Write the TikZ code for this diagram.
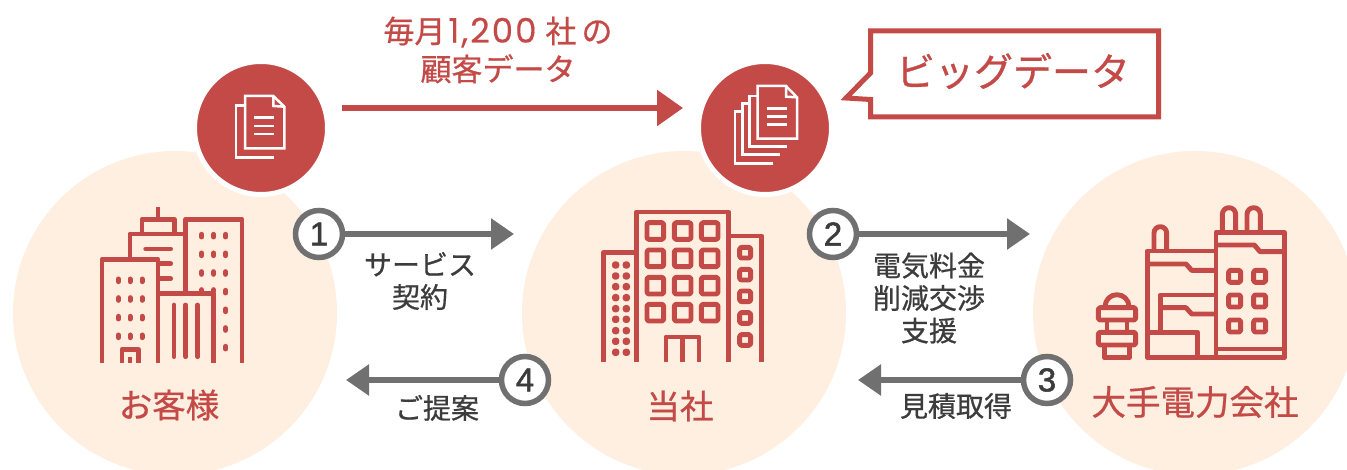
\documentclass[tikz,border=0pt]{standalone}
\usepackage{fontspec}
\setmainfont{Noto Sans CJK JP}[RawFeature={embolden=0.7}]
\newfontfamily\digits{Poppins}[LetterSpace=6,RawFeature={embolden=0.3}]
\newfontfamily\circled{Liberation Sans}[RawFeature={embolden=1.6}]
\usetikzlibrary{arrows.meta}
\definecolor{brick}{HTML}{C44A47}
\definecolor{peach}{HTML}{FFEFE0}
\definecolor{greyline}{HTML}{707070}
\definecolor{ink}{HTML}{3C3C3C}
\tikzset{
  bigdisc/.style={circle,fill=peach,minimum size=324pt,inner sep=0pt},
  reddisc/.style={circle,fill=brick,draw=white,line width=5pt,minimum size=133pt,inner sep=0pt},
  numdisc/.style={circle,fill=white,draw=greyline,line width=5.5pt,minimum size=47pt,inner sep=0pt,text=ink,font=\fontsize{33}{35}\selectfont\circled},
  greyarrow/.style={draw=greyline,line width=5.5pt,-{Triangle[length=23pt,width=30pt]}},
  redarrow/.style={draw=brick,line width=5.5pt,-{Triangle[length=26pt,width=35pt]}},
  redlabel/.style={text=brick,inner sep=0pt,align=center},
  inklabel/.style={text=ink,inner sep=0pt,align=center,font=\fontsize{28}{32.5}\selectfont},
  icon/.style={draw=brick,line width=4.9pt,line join=round},
  iconb/.style={draw=brick,line width=4.9pt,line join=round,rounded corners=1.5pt},
  dash1/.style={draw=brick,line width=5pt,line cap=round},
  bar1/.style={draw=brick,line width=4.8pt,line cap=round},
  paper/.style={draw=white,line width=2.5pt,line join=miter},
}
\begin{document}
\begin{tikzpicture}[x=1pt,y=-1pt]
\useasboundingbox (0,0) rectangle (1347,470);
\clip (0,0) rectangle (1347,470);
\fill[white] (0,0) rectangle (1347,470);

\node[bigdisc] (customer) at (175,313) {};
\node[bigdisc] (us) at (684,313) {};
\node[bigdisc] (power) at (1195,313) {};

\node[reddisc] (docA) at (261,128) {};
\node[reddisc] (docB) at (765,128) {};

% connectors
\coordinate (topstart) at (342,108);
\coordinate (topend) at (683,108);
\draw[redarrow] (topstart) -- (topend);

\coordinate (endA) at (514,234);
\coordinate (endB) at (1030,234);
\coordinate (endC) at (858,380);
\coordinate (endD) at (346,380);
\node[numdisc] (n1) at (319,234) {1};
\node[numdisc] (n2) at (833,234) {2};
\node[numdisc] (n3) at (1047,380) {3};
\node[numdisc] (n4) at (525,380) {4};
\draw[greyarrow] (n1) -- (endA);
\draw[greyarrow] (n2) -- (endB);
\draw[greyarrow] (n3) -- (endC);
\draw[greyarrow] (n4) -- (endD);

% labels
\node[redlabel,font=\fontsize{31}{38}\selectfont] (monthly) at (498,50) {毎月\kern3pt{\fontsize{34}{38}\selectfont\digits 1,200}\kern9pt 社\kern5pt の\\顧客データ};
\node[inklabel] (lab1) at (420,281) {サービス\\契約};
\node[inklabel] (lab2) at (929,298) {電気料金\\削減交渉\\支援};
\node[inklabel] (lab3) at (956,406) {見積取得};
\node[inklabel] (lab4) at (437,408) {ご提案};
\node[redlabel,font=\fontsize{33.5}{35}\selectfont] (nameA) at (169,405) {お客様};
\node[redlabel,font=\fontsize{33.5}{35}\selectfont] (nameB) at (680,406) {当社};
\node[redlabel,font=\fontsize{34.5}{36}\selectfont] (nameC) at (1195,402) {大手電力会社};

% callout
\draw[brick,line width=5pt,miter limit=10,fill=white]
  (870.5,31) -- (1158.5,31) -- (1158.5,117) -- (870.5,117) -- (870.5,99.5) -- (846,98) -- (870.5,73) -- cycle;
\node[redlabel,font=\fontsize{39}{41}\selectfont] (bigdata) at (1013,71) {ビッグデータ};

% single document icon
\begin{scope}[shift={(190,60)},x=1/3*1pt,y=-1/3*1pt]
  \draw[paper] (165,108) -- (250,108) -- (283,140) -- (283,265) -- (165,265) -- cycle;
  \draw[paper] (250,108) -- (250,138) -- (283,140);
  \draw[paper] (165,137) -- (138,137) -- (138,292) -- (253,292);
  \foreach \yy in {173,198,222} \draw[paper] (192,\yy) -- (253,\yy);
\end{scope}

% stacked document icon
\begin{scope}[shift={(690,20)},x=1/3*1pt,y=-1/3*1pt]
  \draw[paper] (203,198) -- (288,198) -- (321,232) -- (321,356) -- (203,356) -- cycle;
  \draw[paper] (288,198) -- (288,230) -- (321,232);
  \foreach \yy in {265,289,313} \draw[paper] (230,\yy) -- (292,\yy);
  \draw[paper] (203,228) -- (178,228) -- (178,380) -- (292,380);
  \draw[paper] (178,250) -- (157,250) -- (157,403) -- (270,403);
  \draw[paper] (157,275) -- (135,275) -- (135,430) -- (248,430);
\end{scope}

% office towers (customer)
\begin{scope}[shift={(80,190)},x=1/3*1pt,y=-1/3*1pt]
  \draw[icon] (66,520) -- (66,208) -- (234,208) -- (234,520);
  \draw[icon] (126,520) -- (126,478) -- (175,478) -- (175,520);
  \draw[icon] (150,500) -- (150,520);
  \draw[icon] (150,208) -- (150,132) -- (317,132);
  \draw[icon] (186,132) -- (186,88) -- (283,88) -- (283,132);
  \draw[icon] (234,88) -- (234,52);
  \draw[bar1] (197,177) -- (272,177);
  \draw[bar1] (240,221) -- (272,221);
  \draw[bar1] (240,266) -- (272,266);
  \draw[icon] (317,310) -- (317,88) -- (486,88) -- (486,520);
  \draw[icon] (234,310) -- (401,310) -- (401,520);
  \foreach \xx in {282,317,353} \draw[bar1] (\xx,345) -- (\xx,500);
  \foreach \xx in {115,150,186} \foreach \yy in {271,327,383,439}
    \draw[dash1] (\xx,\yy-4) -- (\xx,\yy+4);
  \foreach \xx in {365,401,437} \foreach \yy in {137,193,249}
    \draw[dash1] (\xx,\yy-4) -- (\xx,\yy+4);
  \foreach \xx in {365,401} \draw[dash1] (\xx,299) -- (\xx,303);
  \foreach \yy in {305,361,417,473} \draw[dash1] (437,\yy-4) -- (437,\yy+4);
\end{scope}

% office block (us)
\begin{scope}[shift={(590,200)},x=1/3*1pt,y=-1/3*1pt]
  \draw[icon] (139,487) -- (139,36) -- (416,36) -- (416,487);
  \draw[icon] (40,487) -- (40,158) -- (139,158);
  \draw[icon] (416,108) -- (515,108) -- (515,487);
  \foreach \xx in {196,278,359} \foreach \yy in {93,175,257,338}
    \draw[iconb] (\xx-25,\yy-25) rectangle (\xx+25,\yy+25);
  \foreach \xx in {77,109} \foreach \yy in {195,228,260,293,326,358,392,424,457}
    \fill[brick,rounded corners=3pt] (\xx-11,\yy-11) rectangle (\xx+11,\yy+11);
  \foreach \yy in {158,224,289,354,420}
    \draw[iconb] (449,\yy-16) rectangle (482,\yy+16);
  \draw[icon] (228,487) -- (228,411) -- (327,411) -- (327,487);
  \draw[icon] (277,411) -- (277,487);
\end{scope}

% power plant
\begin{scope}[shift={(1085,195)},x=1/3*1pt,y=-1/3*1pt]
  \draw[icon] (393,488) -- (393,112) -- (598,112) -- (598,488) -- (187,488) -- (187,168) -- (393,168);
  \draw[icon] (412,108) -- (412,58) arc (180:360:20) -- (452,108);
  \draw[icon] (486,108) -- (486,58) arc (180:360:20) -- (526,108);
  \draw[icon] (207,165) -- (207,114) arc (180:360:19) -- (245,165);
  \draw[icon] (393,150) -- (508,150) -- (525,170) -- (598,170);
  \draw[icon] (187,207) -- (303,207) -- (320,226) -- (393,226);
  \draw[icon] (226,410) -- (226,300) -- (393,300);
  \draw[icon] (226,338) -- (303,338) -- (320,357) -- (393,357);
  \draw[icon] (187,412) -- (338,412) -- (338,488);
  \draw[icon] (393,462) -- (598,462);
  \foreach \xx in {449,524} \foreach \yy in {244,318,393}
    \draw[iconb] (\xx-18,\yy-18) rectangle (\xx+18,\yy+18);
  \draw[icon] (60,335) arc (180:360:36);
  \draw[iconb] (40,338) rectangle (152,375);
  \draw[iconb] (40,412) rectangle (152,450);
  \draw[icon] (66,375) -- (66,412);
  \draw[icon] (126,375) -- (126,412);
  \draw[icon] (58,450) -- (58,488) -- (133,488) -- (133,450);
\end{scope}
\end{tikzpicture}
\end{document}
